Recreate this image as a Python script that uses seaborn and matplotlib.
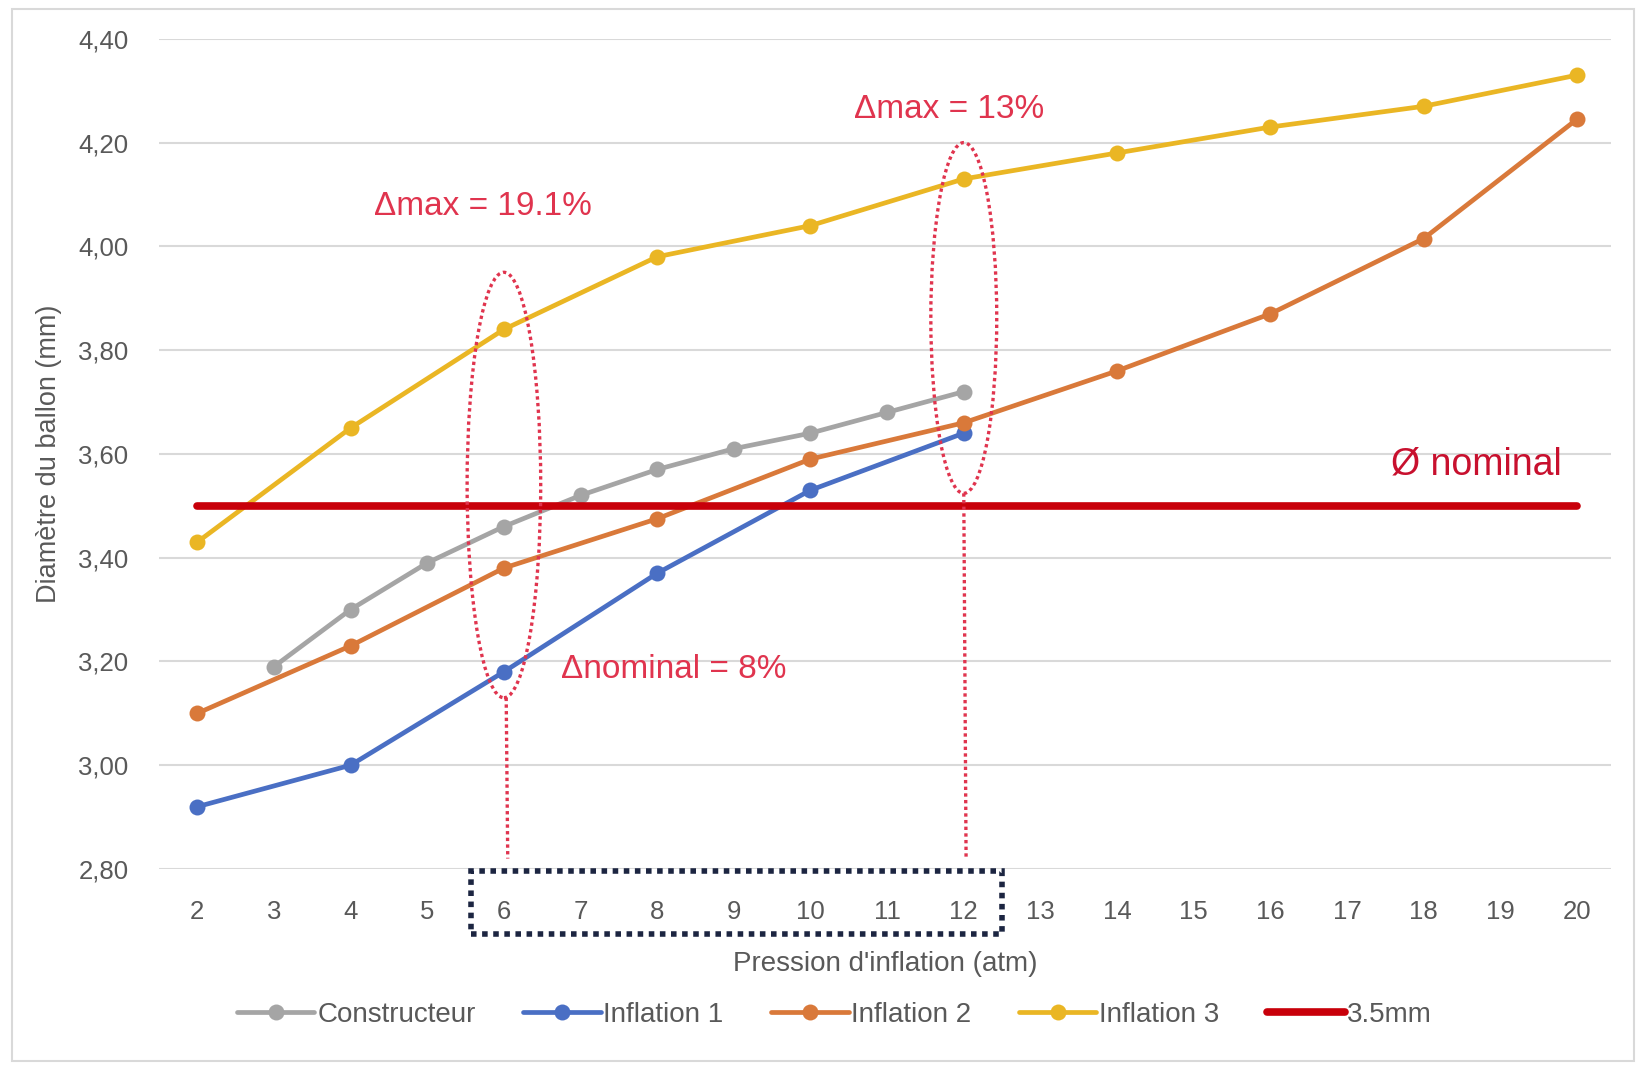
import matplotlib
matplotlib.use("Agg")
import matplotlib.pyplot as plt
import seaborn as sns
from matplotlib.patches import Ellipse, Rectangle
from matplotlib.ticker import FuncFormatter

# pression d'inflation (atm) et diametres mesures (mm)
constructeur_x = [3, 4, 5, 6, 7, 8, 9, 10, 11, 12]
constructeur_y = [3.19, 3.30, 3.39, 3.46, 3.52, 3.57, 3.61, 3.64, 3.68, 3.72]

inflation1_x = [2, 4, 6, 8, 10, 12]
inflation1_y = [2.92, 3.00, 3.18, 3.37, 3.53, 3.64]

inflation2_x = [2, 4, 6, 8, 10, 12, 14, 16, 18, 20]
inflation2_y = [3.10, 3.23, 3.38, 3.475, 3.59, 3.66, 3.76, 3.87, 4.015, 4.245]

inflation3_x = [2, 4, 6, 8, 10, 12, 14, 16, 18, 20]
inflation3_y = [3.43, 3.65, 3.84, 3.98, 4.04, 4.13, 4.18, 4.23, 4.27, 4.33]

nominal_x = [2, 20]
nominal_y = [3.5, 3.5]

x_ticks = list(range(2, 21))
y_ticks = [2.80, 3.00, 3.20, 3.40, 3.60, 3.80, 4.00, 4.20, 4.40]

sns.set_style("white")
plt.rcParams['font.family'] = ['Liberation Sans', 'DejaVu Sans']

fig = plt.figure(figsize=(16.46, 10.70), dpi=100)
ax = fig.add_axes([0.0966, 0.1879, 0.8824, 0.7758])

# cadre du graphique
fig.patches.append(Rectangle((0.007, 0.008), 0.986, 0.984, transform=fig.transFigure,
                             fill=False, edgecolor="#d9d9d9", linewidth=1.5))

ax.set_axisbelow(True)
ax.grid(axis="y", color="#d9d9d9", linewidth=1.5)
ax.grid(axis="x", visible=False)

series = [
    ("Constructeur", constructeur_x, constructeur_y, "#a5a5a5"),
    ("Inflation 1", inflation1_x, inflation1_y, "#4a6fc4"),
    ("Inflation 2", inflation2_x, inflation2_y, "#d9793a"),
    ("Inflation 3", inflation3_x, inflation3_y, "#eab624"),
]
for name, xs, ys, col in series:
    sns.lineplot(x=xs, y=ys, ax=ax, color=col, linewidth=3.4, marker="o",
                 markersize=11.5, markeredgewidth=0, label=name)

sns.lineplot(x=nominal_x, y=nominal_y, ax=ax, color="#c8000a", linewidth=5.5,
             label="3.5mm", zorder=3)

ax.set_xlim(1.5, 20.45)
ax.set_ylim(2.80, 4.40)
ax.set_xticks(x_ticks)
ax.set_yticks(y_ticks)
ax.yaxis.set_major_formatter(FuncFormatter(lambda v, p: f"{v:.2f}".replace(".", ",")))
ax.tick_params(axis="both", length=0, labelsize=18.5, labelcolor="#595959")
ax.tick_params(axis="x", pad=22)
ax.tick_params(axis="y", pad=22)
for s in ax.spines.values():
    s.set_visible(False)

ax.set_xlabel("Pression d'inflation (atm)", fontsize=20, color="#595959", labelpad=20)
ax.set_ylabel("Diamètre du ballon (mm)", fontsize=19.5, color="#595959", labelpad=12)

# annotations
red = "#e0344e"
ax.add_patch(Ellipse((6, 3.54), 0.96, 0.82, fill=False, edgecolor=red,
                     linestyle=(0, (1, 1)), linewidth=2.4, zorder=4))
ax.add_patch(Ellipse((12, 3.862), 0.86, 0.676, fill=False, edgecolor=red,
                     linestyle=(0, (1, 1)), linewidth=2.4, zorder=4))
ax.plot([6.03, 6.05], [3.13, 2.82], color=red, linestyle=(0, (1, 1)), linewidth=2.4, zorder=4)
ax.plot([12.0, 12.03], [3.524, 2.82], color=red, linestyle=(0, (1, 1)), linewidth=2.4, zorder=4)

ax.text(5.73, 4.076, "Δmax = 19.1%", color=red, fontsize=24, ha="center", va="center")
ax.text(11.81, 4.264, "Δmax = 13%", color=red, fontsize=24, ha="center", va="center")
ax.text(8.21, 3.184, "Δnominal = 8%", color=red, fontsize=24, ha="center", va="center")
ax.text(18.69, 3.579, "Ø nominal", color="#c8102e", fontsize=27, ha="center", va="center")

# cadre pointille autour des pressions 6 a 12
box = Rectangle((5.57, -0.078), 6.93, 0.076, transform=ax.get_xaxis_transform(),
                fill=False, edgecolor="#1c2541", linestyle=(0, (1, 1)), linewidth=4,
                clip_on=False)
ax.add_patch(box)

ax.legend(loc="upper center", bbox_to_anchor=(0.465, -0.13), ncol=5, frameon=False,
          fontsize=20, handlelength=2.8, handletextpad=0.1, columnspacing=1.7,
          labelcolor="#595959")

fig.savefig("out.png", dpi=100)
